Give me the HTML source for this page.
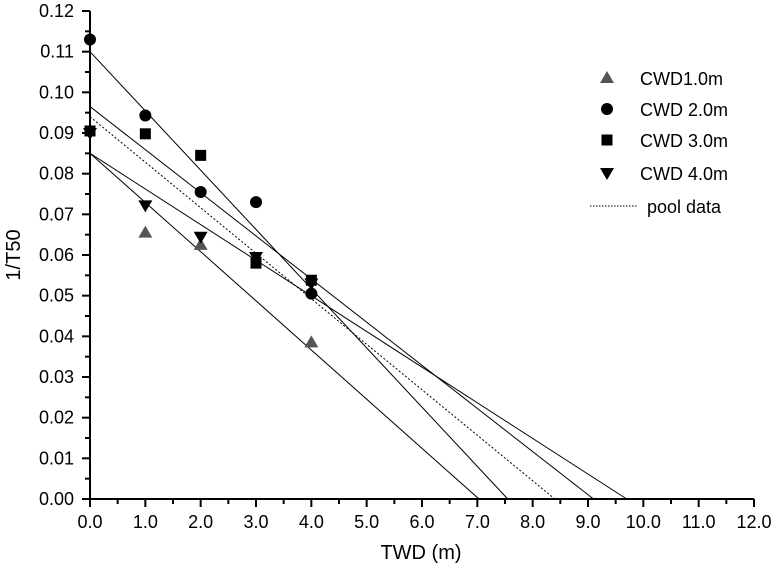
<!DOCTYPE html>
<html><head><meta charset="utf-8"><style>
html,body{margin:0;padding:0;background:#fff;}
svg{display:block;font-family:"Liberation Sans",Arial,sans-serif;}
</style></head><body>
<svg id="chart" width="778" height="576" viewBox="0 0 778 576"></svg>
<script>
const xTicks=[0,1,2,3,4,5,6,7,8,9,10,11,12];
const yTicks=[0,0.01,0.02,0.03,0.04,0.05,0.06,0.07,0.08,0.09,0.10,0.11,0.12];
const seriesNames=["CWD1.0m","CWD 2.0m","CWD 3.0m","CWD 4.0m"];
const cwd1X=[1,2,4];
const cwd1Y=[0.0655,0.0625,0.0385];
const cwd2X=[0,1,2,3,4];
const cwd2Y=[0.113,0.0943,0.0755,0.073,0.0505];
const cwd3X=[0,1,2,3,4];
const cwd3Y=[0.0905,0.0898,0.0845,0.058,0.0538];
const cwd4X=[0,1,2,3,4];
const cwd4Y=[0.090,0.0722,0.0645,0.0595,0.053];
// fitted lines: intercept and x-intercept
const fitIntercepts=[0.085,0.110,0.0965,0.085,0.094];
const fitXIntercepts=[7.03,7.55,9.1,9.7,8.4];
const fitDashed=[false,false,false,false,true];

const NS="http://www.w3.org/2000/svg";
const svg=document.getElementById('chart');
const X0=90,X1=754,Y0=499,Y1=11;
const sx=v=>X0+(v-0)/12*(X1-X0);
const sy=v=>Y0-(v/0.12)*(Y0-Y1);
function mk(t,a,p){const e=document.createElementNS(NS,t);for(const k in a)e.setAttribute(k,a[k]);(p||svg).appendChild(e);return e;}

const axes=mk('g',{});


const xl=mk('line',{x1:X0,y1:Y0,x2:X1,y2:Y0,stroke:'#000','stroke-width':2},axes);


const yl=mk('line',{x1:X0,y1:Y0,x2:X0,y2:Y1,stroke:'#000','stroke-width':2},axes);


xTicks.forEach((v,i)=>{
  const x=sx(v);
  mk('line',{x1:x,y1:Y0,x2:x,y2:Y0+8,stroke:'#000','stroke-width':2},axes);
  if(i<xTicks.length-1){const xm=sx(v+0.5);mk('line',{x1:xm,y1:Y0,x2:xm,y2:Y0+5,stroke:'#000','stroke-width':2},axes);}
  const t=mk('text',{x:x,y:Y0+29,'text-anchor':'middle','font-size':18},axes);
  t.textContent=v.toFixed(1);
  
  
});
yTicks.forEach((v,i)=>{
  const y=sy(v);
  mk('line',{x1:X0-8,y1:y,x2:X0,y2:y,stroke:'#000','stroke-width':2},axes);
  if(i<yTicks.length-1){const ym=sy(v+0.005);mk('line',{x1:X0-5,y1:ym,x2:X0,y2:ym,stroke:'#000','stroke-width':2},axes);}
  const t=mk('text',{x:X0-16,y:y+6,'text-anchor':'end','font-size':18},axes);
  t.textContent=v.toFixed(2);
  
  
});
const xt=mk('text',{x:421,y:559,'text-anchor':'middle','font-size':20});
xt.textContent='TWD (m)';


const yt=mk('text',{x:20,y:255,'text-anchor':'middle','font-size':20,transform:'rotate(-90 20 255)'});
yt.textContent='1/T50';



fitIntercepts.forEach((b,i)=>{
  const l=mk('line',{x1:sx(0),y1:sy(b),x2:sx(fitXIntercepts[i]),y2:sy(0),stroke:'#000','stroke-width':1});
  if(fitDashed[i])l.setAttribute('stroke-dasharray','2,2');
  
  
});

function marker(type,x,y,p){
  let e;
  if(type===0)e=mk('polygon',{points:`${x},${y-7} ${x-7},${y+5} ${x+7},${y+5}`,fill:'#555'},p);
  else if(type===1)e=mk('circle',{cx:x,cy:y,r:6,fill:'#000'},p);
  else if(type===2)e=mk('rect',{x:x-5.5,y:y-5.5,width:11,height:11,fill:'#000'},p);
  else e=mk('polygon',{points:`${x-7},${y-5} ${x+7},${y-5} ${x},${y+7}`,fill:'#000'},p);
  return e;
}
const allX=[cwd1X,cwd2X,cwd3X,cwd4X],allY=[cwd1Y,cwd2Y,cwd3Y,cwd4Y];
allX.forEach((xs,s)=>{
  const g=mk('g',{});
  
  
  xs.forEach((v,i)=>{
    const m=marker(s,sx(v),sy(allY[s][i]),g);
    
    
  });
});

const leg=mk('g',{});


const rows=[78,109,140,173];
seriesNames.forEach((n,i)=>{
  const e=marker(i,607,rows[i],leg);
  
  
  const t=mk('text',{x:640,y:rows[i]+7,'font-size':18},leg);
  t.textContent=n;
  
  
});
const dl=mk('line',{x1:590,y1:206,x2:637,y2:206,stroke:'#000','stroke-width':1,'stroke-dasharray':'1.5,1.5'},leg);


const pt=mk('text',{x:647,y:213,'font-size':18},leg);
pt.textContent='pool data';


</script>
</body></html>
